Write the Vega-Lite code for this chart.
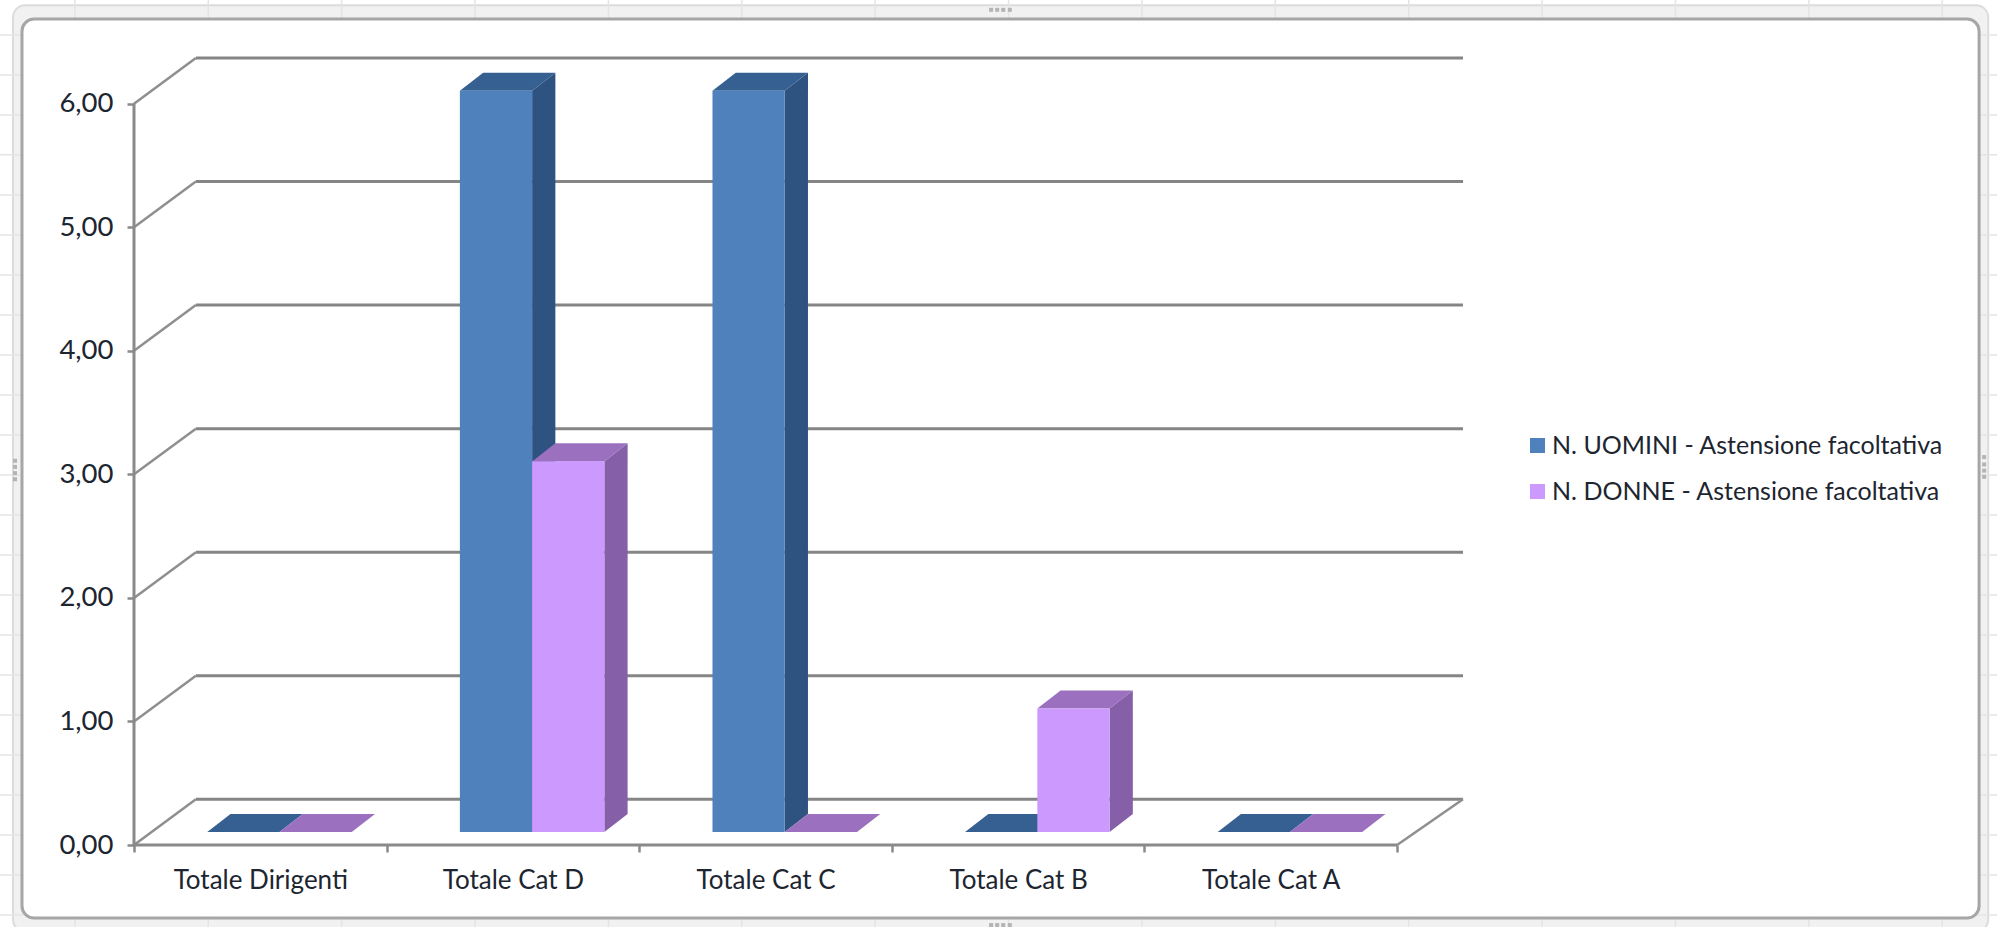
{
  "$schema": "https://vega.github.io/schema/vega-lite/v6.json",
  "width": 1329,
  "height": 787,
  "autosize": {"type": "none"},
  "padding": {"left": 134, "top": 58, "right": 534, "bottom": 82},
  "background": "#ffffff",
  "config": {"view": {"stroke": null}, "font": "Lato"},
  "datasets": {
    "assenze": [
      {"categoria": "Totale Dirigenti", "serie": "N. UOMINI - Astensione facoltativa", "valore": 0},
      {"categoria": "Totale Cat D", "serie": "N. UOMINI - Astensione facoltativa", "valore": 6},
      {"categoria": "Totale Cat C", "serie": "N. UOMINI - Astensione facoltativa", "valore": 6},
      {"categoria": "Totale Cat B", "serie": "N. UOMINI - Astensione facoltativa", "valore": 0},
      {"categoria": "Totale Cat A", "serie": "N. UOMINI - Astensione facoltativa", "valore": 0},
      {"categoria": "Totale Dirigenti", "serie": "N. DONNE - Astensione facoltativa", "valore": 0},
      {"categoria": "Totale Cat D", "serie": "N. DONNE - Astensione facoltativa", "valore": 3},
      {"categoria": "Totale Cat C", "serie": "N. DONNE - Astensione facoltativa", "valore": 0},
      {"categoria": "Totale Cat B", "serie": "N. DONNE - Astensione facoltativa", "valore": 1},
      {"categoria": "Totale Cat A", "serie": "N. DONNE - Astensione facoltativa", "valore": 0}
    ],
    "livelli": [
      {"livello": 0}, {"livello": 1}, {"livello": 2}, {"livello": 3},
      {"livello": 4}, {"livello": 5}, {"livello": 6}
    ],
    "colonneFoglio": [
      {"colonna": -0.234}, {"colonna": 0.294}, {"colonna": 0.822}, {"colonna": 1.35}, {"colonna": 1.878},
      {"colonna": 2.406}, {"colonna": 2.934}, {"colonna": 3.462}, {"colonna": 3.99}, {"colonna": 4.518},
      {"colonna": 5.046}, {"colonna": 5.574}, {"colonna": 6.102}, {"colonna": 6.63}, {"colonna": 7.158}
    ],
    "righeFoglio": [
      {"riga": 6.557}, {"riga": 6.233}, {"riga": 5.909}, {"riga": 5.586}, {"riga": 5.262}, {"riga": 4.938},
      {"riga": 4.614}, {"riga": 4.29}, {"riga": 3.967}, {"riga": 3.643}, {"riga": 3.319}, {"riga": 2.995},
      {"riga": 2.671}, {"riga": 2.348}, {"riga": 2.024}, {"riga": 1.7}, {"riga": 1.376}, {"riga": 1.052},
      {"riga": 0.729}, {"riga": 0.405}, {"riga": 0.081}, {"riga": -0.243}, {"riga": -0.567}
    ],
    "maniglie": [
      {"mx": 3.393, "my": 6.76}, {"mx": 3.417, "my": 6.76}, {"mx": 3.441, "my": 6.76}, {"mx": 3.467, "my": 6.76},
      {"mx": 3.393, "my": -0.648}, {"mx": 3.417, "my": -0.648}, {"mx": 3.441, "my": -0.648}, {"mx": 3.467, "my": -0.648},
      {"mx": -0.471, "my": 3.11}, {"mx": -0.471, "my": 3.06}, {"mx": -0.471, "my": 3.01}, {"mx": -0.471, "my": 2.96},
      {"mx": 7.324, "my": 3.14}, {"mx": 7.324, "my": 3.08}, {"mx": 7.324, "my": 3.03}, {"mx": 7.324, "my": 2.98}
    ]
  },
  "layer": [
    {
      "data": {"values": [{}]},
      "mark": {"type": "rect", "fill": "#f1f1f1", "stroke": "#dcdcdc", "strokeWidth": 2, "cornerRadius": 12},
      "encoding": {
        "x": {"datum": -0.479, "type": "quantitative", "scale": {"domain": [0, 5.261], "nice": false, "zero": false}, "axis": {"values": [0, 1, 2, 3, 4, 5], "labels": false, "title": null, "grid": false, "domain": false, "tickSize": 7, "tickWidth": 2.5, "tickColor": "#8a8a8a", "orient": "bottom", "zindex": 1}},
        "x2": {"datum": 7.34},
        "y": {"datum": 6.796, "type": "quantitative", "scale": {"domain": [0, 6.37], "nice": false, "zero": false}, "axis": {"values": [0, 1, 2, 3, 4, 5, 6], "title": null, "grid": false, "domain": false, "tickSize": 7, "tickWidth": 2.5, "tickColor": "#8a8a8a", "labelFontSize": 27.5, "labelColor": "#1c2530", "labelPadding": 14, "labelExpr": "replace(format(datum.value, '.2f'), '.', ',')", "zindex": 1}},
        "y2": {"datum": -0.7}
      }
    },
    {
      "data": {"name": "colonneFoglio"},
      "mark": {"type": "rule", "color": "#e4e4e4", "strokeWidth": 1.5},
      "encoding": {
        "x": {"field": "colonna", "type": "quantitative", "axis": null},
        "y": {"datum": -0.7, "type": "quantitative"},
        "y2": {"datum": 6.84}
      }
    },
    {
      "data": {"name": "righeFoglio"},
      "mark": {"type": "rule", "color": "#e4e4e4", "strokeWidth": 1.5},
      "encoding": {
        "x": {"datum": -0.531, "type": "quantitative", "axis": null},
        "x2": {"datum": 7.376},
        "y": {"field": "riga", "type": "quantitative"}
      }
    },
    {
      "data": {"name": "maniglie"},
      "mark": {"type": "point", "shape": "square", "filled": true, "opacity": 1, "color": "#b4b4b4", "size": 16},
      "encoding": {
        "x": {"field": "mx", "type": "quantitative", "axis": null},
        "y": {"field": "my", "type": "quantitative"}
      }
    },
    {
      "data": {"values": [{}]},
      "mark": {"type": "rect", "fill": "#ffffff", "stroke": "#a6a6a6", "strokeWidth": 3, "cornerRadius": 12},
      "encoding": {
        "x": {"datum": -0.4434, "type": "quantitative", "axis": null},
        "x2": {"datum": 7.304},
        "y": {"datum": 6.685, "type": "quantitative"},
        "y2": {"datum": -0.591}
      }
    },
    {
      "data": {"name": "livelli"},
      "transform": [{"calculate": "datum.livello + 0.37", "as": "fondo"}],
      "layer": [
        {
          "mark": {"type": "rule", "color": "#858585", "strokeWidth": 3},
          "encoding": {
            "x": {"datum": 0.245, "type": "quantitative", "axis": null},
            "x2": {"datum": 5.261},
            "y": {"field": "fondo", "type": "quantitative"}
          }
        },
        {
          "mark": {"type": "rule", "color": "#8f8f8f", "strokeWidth": 2.5},
          "encoding": {
            "x": {"datum": 0, "type": "quantitative", "axis": null},
            "x2": {"datum": 0.245},
            "y": {"field": "livello", "type": "quantitative"},
            "y2": {"field": "fondo"}
          }
        }
      ]
    },
    {
      "data": {"values": [{}]},
      "layer": [
        {
          "mark": {"type": "rule", "color": "#8a8a8a", "strokeWidth": 3},
          "encoding": {
            "x": {"datum": 0, "type": "quantitative", "axis": null},
            "y": {"datum": 0, "type": "quantitative"},
            "y2": {"datum": 6}
          }
        },
        {
          "mark": {"type": "rule", "color": "#8a8a8a", "strokeWidth": 3},
          "encoding": {
            "x": {"datum": 0, "type": "quantitative", "axis": null},
            "x2": {"datum": 5},
            "y": {"datum": 0, "type": "quantitative"}
          }
        },
        {
          "mark": {"type": "rule", "color": "#8f8f8f", "strokeWidth": 2.5},
          "encoding": {
            "x": {"datum": 5, "type": "quantitative", "axis": null},
            "x2": {"datum": 5.261},
            "y": {"datum": 0, "type": "quantitative"},
            "y2": {"datum": 0.37}
          }
        }
      ]
    },
    {
      "data": {"values": [{}]},
      "mark": {"type": "rule", "opacity": 0},
      "encoding": {
        "x": {"datum": 0.5, "type": "quantitative", "axis": {"values": [0.5, 1.5, 2.5, 3.5, 4.5], "ticks": false, "domain": false, "grid": false, "title": null, "orient": "bottom", "labelFontSize": 26, "labelColor": "#1c2530", "labelPadding": 22, "labelOverlap": false, "labelFlush": false, "labelExpr": "['Totale Dirigenti', 'Totale Cat D', 'Totale Cat C', 'Totale Cat B', 'Totale Cat A'][floor(datum.value)]", "zindex": 1}},
        "y": {"datum": 0, "type": "quantitative"}
      }
    },
    {
      "data": {"name": "assenze"},
      "transform": [
        {"calculate": "indexof(['Totale Dirigenti', 'Totale Cat D', 'Totale Cat C', 'Totale Cat B', 'Totale Cat A'], datum.categoria)", "as": "posto"},
        {"calculate": "datum.posto + 0.29 + (datum.serie === 'N. DONNE - Astensione facoltativa' ? 0.286 : 0)", "as": "sinistra"},
        {"calculate": "datum.sinistra + 0.286", "as": "destra"},
        {"calculate": "[0, 1]", "as": "profondita"},
        {"flatten": ["profondita"]},
        {"calculate": "datum.categoria + datum.serie", "as": "barra"},
        {"calculate": "datum.profondita * 0.092", "as": "sx"},
        {"calculate": "datum.profondita * 0.146 + 0.105", "as": "sy"},
        {"calculate": "datum.destra + datum.sx", "as": "xDestra"},
        {"calculate": "datum.sinistra + datum.sx", "as": "xSinistra"},
        {"calculate": "datum.valore + datum.sy", "as": "yCima"}
      ],
      "layer": [
        {
          "mark": {"type": "area", "orient": "vertical"},
          "encoding": {
            "detail": {"field": "barra"},
            "x": {"field": "xDestra", "type": "quantitative", "axis": null},
            "y": {"field": "yCima", "type": "quantitative", "stack": null},
            "y2": {"field": "sy"},
            "fill": {"condition": {"test": "datum.serie === 'N. DONNE - Astensione facoltativa'", "value": "#8560a8"}, "value": "#2f5380"}
          }
        },
        {
          "mark": {"type": "area", "orient": "horizontal"},
          "encoding": {
            "detail": {"field": "barra"},
            "y": {"field": "yCima", "type": "quantitative"},
            "x": {"field": "xSinistra", "type": "quantitative", "stack": null, "axis": null},
            "x2": {"field": "xDestra"},
            "fill": {"condition": {"test": "datum.serie === 'N. DONNE - Astensione facoltativa'", "value": "#9a70bf"}, "value": "#366092"}
          }
        }
      ]
    },
    {
      "data": {"name": "assenze"},
      "transform": [
        {"calculate": "indexof(['Totale Dirigenti', 'Totale Cat D', 'Totale Cat C', 'Totale Cat B', 'Totale Cat A'], datum.categoria)", "as": "posto"},
        {"calculate": "datum.posto + 0.29 + (datum.serie === 'N. DONNE - Astensione facoltativa' ? 0.286 : 0)", "as": "sinistra"},
        {"calculate": "datum.sinistra + 0.286", "as": "destra"}
      ],
      "mark": {"type": "rect", "yOffset": -13, "y2Offset": -13},
      "encoding": {
        "x": {"field": "sinistra", "type": "quantitative", "axis": null},
        "x2": {"field": "destra"},
        "y": {"field": "valore", "type": "quantitative"},
        "y2": {"datum": 0},
        "color": {
          "field": "serie",
          "type": "nominal",
          "scale": {
            "domain": ["N. UOMINI - Astensione facoltativa", "N. DONNE - Astensione facoltativa"],
            "range": ["#4f81bd", "#cc99ff"]
          },
          "legend": {
            "title": null,
            "orient": "none",
            "legendX": 1391,
            "legendY": 375,
            "symbolType": "square",
            "symbolSize": 225,
            "symbolStrokeWidth": 0,
            "symbolOpacity": 1,
            "labelFontSize": 25,
            "labelColor": "#1c2530",
            "labelOffset": 2,
            "labelLimit": 500,
            "rowPadding": 20
          }
        }
      }
    }
  ],
  "resolve": {"axis": {"x": "independent"}}
}
